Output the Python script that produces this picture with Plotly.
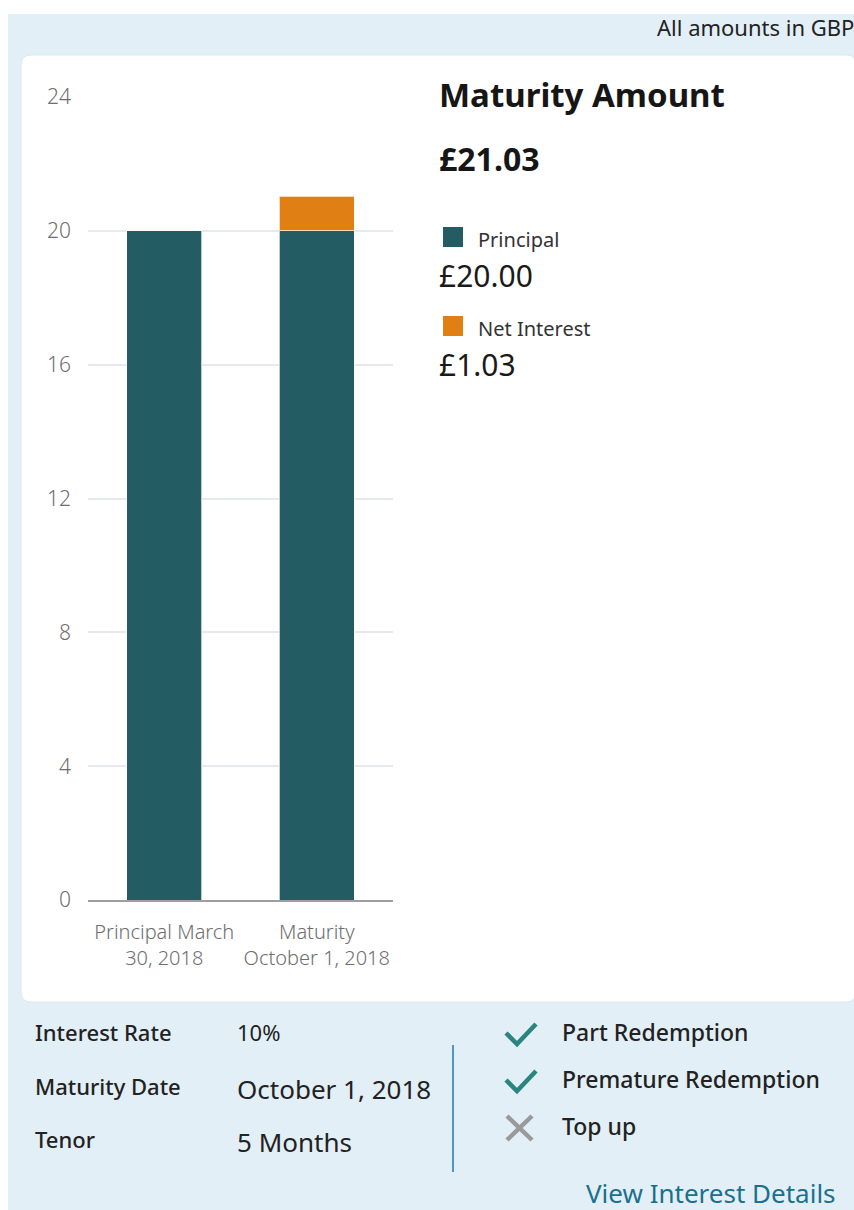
import plotly.graph_objects as go

# data
categories = ["Principal March<br>30, 2018", "Maturity<br>October 1, 2018"]
principal = [20, 20]
net_interest = [0, 1.03]
y_ticks = [0, 4, 8, 12, 16, 20, 24]

details = [("Interest Rate", "10%"), ("Maturity Date", "October 1, 2018"), ("Tenor", "5 Months")]
features = [("Part Redemption", True), ("Premature Redemption", True), ("Top up", False)]

W, H = 854, 1210
TEAL = "#245c64"
ORANGE = "#e07f14"
FONT = "Noto Sans"


def px(x):
    return x / W


def py(y):
    return 1 - y / H


fig = go.Figure()

fig.add_trace(go.Bar(
    x=categories, y=principal, name="Principal",
    marker=dict(color=TEAL, line=dict(color="rgba(255,255,255,0.7)", width=1)),
))
fig.add_trace(go.Bar(
    x=categories, y=net_interest, name="Net Interest",
    marker=dict(color=ORANGE, line=dict(color="rgba(255,255,255,0.7)", width=1)),
))

shapes = []
# light blue panel
shapes.append(dict(type="rect", xref="paper", yref="paper", x0=px(8), x1=px(860), y0=py(1215), y1=py(14),
                   fillcolor="#e3eff6", line=dict(width=0), layer="below"))
# white card with rounded corners
r = 10
x0, x1, y0, y1 = 21, 856, 55, 1002
path = (f"M {px(x0 + r)} {py(y0)} L {px(x1 - r)} {py(y0)} Q {px(x1)} {py(y0)} {px(x1)} {py(y0 + r)} "
        f"L {px(x1)} {py(y1 - r)} Q {px(x1)} {py(y1)} {px(x1 - r)} {py(y1)} "
        f"L {px(x0 + r)} {py(y1)} Q {px(x0)} {py(y1)} {px(x0)} {py(y1 - r)} "
        f"L {px(x0)} {py(y0 + r)} Q {px(x0)} {py(y0)} {px(x0 + r)} {py(y0)} Z")
shapes.append(dict(type="path", xref="paper", yref="paper", path=path, fillcolor="white",
                   line=dict(color="#dde8ee", width=1), layer="below"))

# legend squares
for (yc, col) in [(237, TEAL), (326, ORANGE)]:
    shapes.append(dict(type="rect", xref="paper", yref="paper", x0=px(443), x1=px(463),
                       y0=py(yc + 10), y1=py(yc - 10), fillcolor=col, line=dict(width=0)))

# divider
shapes.append(dict(type="line", xref="paper", yref="paper", x0=px(453), x1=px(453), y0=py(1045), y1=py(1172),
                   line=dict(color="#4f95c7", width=2)))

# check / cross icons
for i, (_, ok) in enumerate(features):
    oy = i * 47
    if ok:
        p = f"M {px(506)} {py(1033 + oy)} L {px(517)} {py(1044 + oy)} L {px(536)} {py(1024 + oy)}"
        shapes.append(dict(type="path", xref="paper", yref="paper", path=p,
                           line=dict(color="#2a8580", width=4.5)))
    else:
        for a, b in [((507, 1022), (532, 1046)), ((532, 1022), (507, 1046))]:
            shapes.append(dict(type="line", xref="paper", yref="paper",
                               x0=px(a[0]), y0=py(a[1] + oy), x1=px(b[0]), y1=py(b[1] + oy),
                               line=dict(color="#9a9a9a", width=4.5)))

ann = []


def text(x, y, s, size, color="#1a1a1a", weight=400, anchor="left"):
    ann.append(dict(x=px(x), y=py(y), xref="paper", yref="paper", text=s, showarrow=False,
                    xanchor=anchor, yanchor="middle",
                    font=dict(family=FONT, size=size, color=color, weight=weight)))


total = principal[1] + net_interest[1]
text(856, 27, "All amounts in GBP", 22, "#222222", anchor="right")
text(437, 95, "Maturity Amount", 33, "#161616", 700)
text(437, 158, f"£{total:.2f}", 32, "#161616", 700)
text(476, 239, "Principal", 20, "#333333")
text(437, 275, f"£{principal[1]:.2f}", 30)
text(476, 328, "Net Interest", 20, "#333333")
text(437, 364, f"£{net_interest[1]:.2f}", 30)

for i, (label, val) in enumerate(details):
    yl = [1032, 1086, 1139][i]
    text(33, yl, label, 22, "#222222", 500)
    text(235, yl + (0 if i == 0 else 3), val, 22 if i == 0 else 26, "#222222")

for i, (label, _) in enumerate(features):
    text(560, 1032 + i * 47, label, 23, "#222222", 500)

text(584, 1193, "View Interest Details", 26, "#1b6f8f")

fig.update_layout(
    width=W, height=H,
    margin=dict(l=0, r=0, t=0, b=0, autoexpand=False),
    paper_bgcolor="white", plot_bgcolor="rgba(0,0,0,0)",
    barmode="stack", bargap=0.51,
    showlegend=False,
    shapes=shapes, annotations=ann,
    xaxis=dict(domain=[px(88), px(393)], showgrid=False, showline=True, linecolor="#9e9e9e", linewidth=2,
               ticks="", automargin=False, ticklabelstandoff=13,
               tickfont=dict(family=FONT, size=20, color="#6e6e6e", weight=300)),
    yaxis=dict(domain=[py(900), py(97)], range=[0, 24], tickvals=y_ticks, showgrid=True,
               gridcolor="#e6e9ee", gridwidth=1.5, zeroline=False, showline=False, ticks="",
               automargin=False, ticklabelstandoff=16,
               tickfont=dict(family=FONT, size=21, color="#6e6e6e", weight=300)),
)

fig.write_html("out.html", config={"displayModeBar": False},
               post_script="document.body.style.margin='0';document.body.style.overflow='hidden';")
